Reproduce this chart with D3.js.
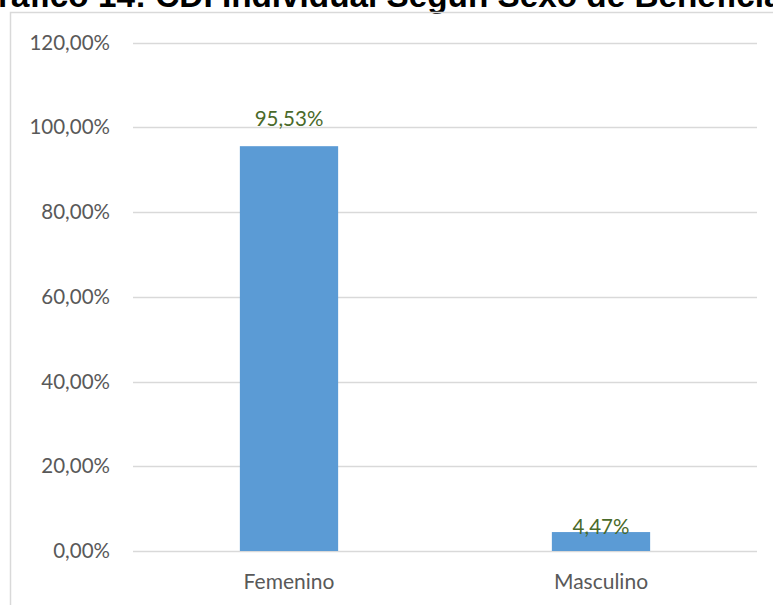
<!DOCTYPE html>
<html><head><meta charset="utf-8">
<script src="https://cdn.jsdelivr.net/npm/d3@7"></script>
<style>html,body{margin:0;padding:0;background:#fff;overflow:hidden}</style>
</head><body>
<svg id="c" width="773" height="605"></svg>
<script>
const titleText = "Gráfico 14: CDI Individual Según Sexo de Beneficiarios";
const categories = ["Femenino", "Masculino"];
const values = [95.53, 4.47];
const valueLabels = ["95,53%", "4,47%"];
const yTicks = [0, 20, 40, 60, 80, 100, 120];
const yTickLabels = ["0,00%", "20,00%", "40,00%", "60,00%", "80,00%", "100,00%", "120,00%"];

(function () {
const svg = d3.select("#c");
const W = 773, H = 605;
const mLeft = 133, mRight = 757, mTop = 42.5, mBottom = 551;

// title (cropped at top/left/right like the reference crop)
const tFont = "Liberation Sans, Arial, sans-serif";
const measure = (txt, fs) => {
  const t = svg.append("text").attr("font-family", tFont).attr("font-weight", "bold")
    .attr("font-size", fs).text(txt);
  const w = t.node().getComputedTextLength();
  t.remove();
  return w;
};
const spanW = measure("ráfico 14: CDI Individual Según Sexo de Beneficia", 100);
const tfs = 100 * 785 / spanW;
const pre = measure("G", tfs);
svg.append("text").attr("x", -pre - 2).attr("y", 6.5)
  .attr("font-family", tFont)
  .attr("font-weight", "bold").attr("font-size", tfs).attr("fill", "#000")
  .text(titleText);

// chart border
svg.append("path").attr("d", `M10.5,${H+5} V12.5 H${W+5}`)
  .attr("fill", "none").attr("stroke", "#d9d9d9").attr("stroke-width", 1.5);

const x = d3.scaleBand().domain(categories).range([mLeft, mRight]).paddingInner(0.685).paddingOuter(0.3425);
const y = d3.scaleLinear().domain([0, 120]).range([mBottom, mTop]);

const font = "Lato, 'Open Sans', sans-serif";

// gridlines
svg.append("g").selectAll("line").data(yTicks).join("line")
  .attr("x1", mLeft).attr("x2", mRight)
  .attr("y1", d => Math.round(y(d)) + 0.5).attr("y2", d => Math.round(y(d)) + 0.5)
  .attr("stroke", "#d9d9d9").attr("stroke-width", 1.3);

// y axis labels
const yAxis = d3.axisLeft(y).tickValues(yTicks).tickSize(0).tickPadding(0)
  .tickFormat((d, i) => yTickLabels[i]);
const ya = svg.append("g").attr("transform", `translate(110,0)`).call(yAxis);
ya.select(".domain").remove();
ya.selectAll("text").attr("font-family", font).attr("font-size", 20.5).attr("fill", "#595959");

// bars
svg.append("g").selectAll("rect").data(values).join("rect")
  .attr("x", (d, i) => x(categories[i]))
  .attr("width", x.bandwidth())
  .attr("y", d => y(d))
  .attr("height", d => mBottom - y(d))
  .attr("fill", "#5b9bd5");

// data labels
svg.append("g").selectAll("text").data(values).join("text")
  .attr("x", (d, i) => x(categories[i]) + x.bandwidth() / 2)
  .attr("y", d => (mBottom - y(d)) > 40 ? y(d) - 20 : y(d) + 2)
  .attr("text-anchor", "middle")
  .attr("font-family", font).attr("font-size", 20.5).attr("fill", "#4a6a2a")
  .text((d, i) => valueLabels[i]);

// x axis labels
const xAxis = d3.axisBottom(x).tickSize(0).tickPadding(0);
const xa = svg.append("g").attr("transform", `translate(0,${mBottom + 23})`).call(xAxis);
xa.select(".domain").remove();
xa.selectAll("text").attr("font-family", font).attr("font-size", 21).attr("fill", "#595959")
  .attr("dy", "0.71em");
})();
</script>
</body></html>
